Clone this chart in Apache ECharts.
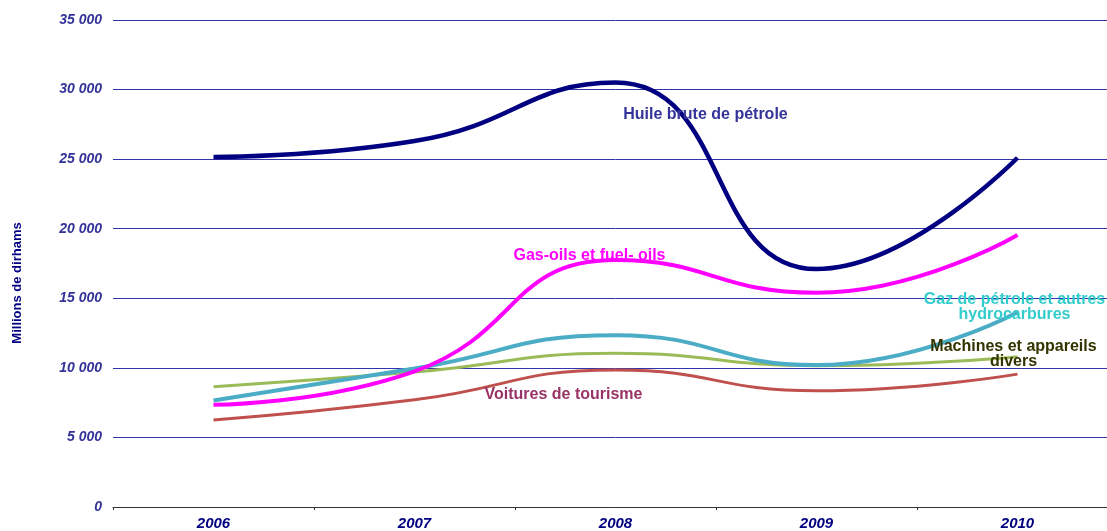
<!DOCTYPE html>
<html>
<head>
<meta charset="utf-8">
<script src="https://cdn.jsdelivr.net/npm/echarts@6/dist/echarts.min.js"></script>
<style>
  html, body { margin: 0; padding: 0; background: #fff; overflow: hidden; }
  #chart { width: 1118px; height: 531px; }
</style>
</head>
<body>
<div id="chart"></div>
<script>
const years = ['2006', '2007', '2008', '2009', '2010']
const huile = [25150, 26300, 30500, 17100, 25100]
const gasOils = [7350, 9750, 17750, 15400, 19550]
const gazPetrole = [7650, 9950, 12350, 10200, 14000]
const machines = [8650, 9700, 11050, 10150, 10800]
const voitures = [6250, 7700, 9850, 8350, 9550]
const yTicks = [0, 5000, 10000, 15000, 20000, 25000, 30000, 35000]

const chart = echarts.init(document.getElementById('chart'))
const font = 'Liberation Sans, Arial, sans-serif'

function label (text, color, coord, offset) {
  return {
    symbol: 'circle',
    symbolSize: 0,
    silent: true,
    data: [{
      coord: coord,
      label: {
        show: true,
        position: 'inside',
        offset: offset,
        formatter: text,
        color: color,
        fontFamily: font,
        fontWeight: 'bold',
        fontSize: 16,
        lineHeight: 15,
        align: 'center'
      }
    }]
  }
}

function line (name, data, color, width, mark) {
  return {
    name: name,
    type: 'line',
    data: data,
    smooth: 0.5,
    showSymbol: false,
    lineStyle: { color: color, width: width },
    itemStyle: { color: color },
    markPoint: mark,
    z: 3
  }
}

chart.setOption({
  animation: false,
  grid: { left: 113, right: 0, top: 20, bottom: 23 },
  graphic: [{
    type: 'text',
    rotation: Math.PI / 2,
    x: 17,
    y: 283,
    style: {
      text: 'Millions de dirhams',
      fill: '#000080',
      font: 'bold 13px ' + font,
      align: 'center',
      verticalAlign: 'middle'
    }
  }],
  xAxis: {
    type: 'category',
    data: years,
    boundaryGap: true,
    axisLine: { lineStyle: { color: '#333333', width: 1 } },
    axisTick: { show: true, length: 3, lineStyle: { color: '#333333' } },
    axisLabel: {
      color: '#000080',
      fontFamily: font,
      fontStyle: 'italic',
      fontWeight: 'bold',
      fontSize: 15,
      margin: 9
    },
    splitLine: { show: false }
  },
  yAxis: {
    type: 'value',
    min: yTicks[0],
    max: yTicks[yTicks.length - 1],
    interval: 5000,
    axisLine: { show: false },
    axisTick: { show: false },
    axisLabel: {
      color: '#333399',
      fontFamily: font,
      fontStyle: 'italic',
      fontWeight: 'bold',
      fontSize: 14,
      margin: 11,
      formatter: v => String(v).replace(/\B(?=(\d{3})+(?!\d))/g, ' ')
    },
    splitLine: { lineStyle: { color: '#3333aa', width: 1 } }
  },
  series: [
    line('Voitures de tourisme', voitures, '#c0504d', 3,
      label('Voitures de tourisme', '#993366', ['2008', 8180], [-52, 1])),
    line('Machines et appareils divers', machines, '#9bbb59', 3,
      label('Machines et appareils\ndivers', '#333300', ['2010', 11190], [-4, 3])),
    line('Gaz de pétrole et autres hydrocarbures', gazPetrole, '#4bacc6', 4,
      label('Gaz de pétrole et autres\nhydrocarbures', '#33cccc', ['2010', 14560], [-3, 3])),
    line('Gas-oils et fuel- oils', gasOils, '#ff00ff', 4,
      label('Gas-oils et fuel- oils', '#ff00ff', ['2008', 18150], [-26, 1])),
    line('Huile brute de pétrole', huile, '#000080', 4.5,
      label('Huile brute de pétrole', '#333399', ['2008', 28300], [90, 1]))
  ]
})

window.addEventListener('resize', () => {
  chart.resize()
})
</script>
</body>
</html>
